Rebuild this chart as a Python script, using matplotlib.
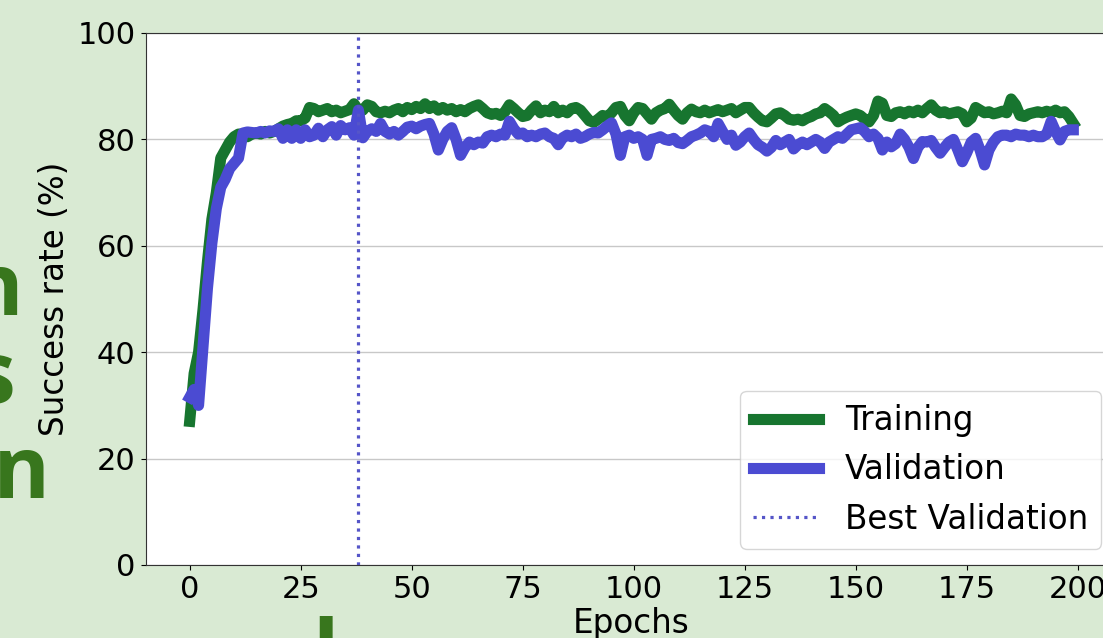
import numpy as np
import matplotlib
matplotlib.use("Agg")
import matplotlib.pyplot as plt

# success rate per epoch
training = [
    27, 36, 40, 48, 57, 65, 70, 76.5, 78, 79.5,
    80.5, 81, 81, 80.5, 81, 81.2, 81, 81.5, 81.2, 81.5,
    82, 82.5, 82.8, 83, 83.5, 83.5, 84, 86, 85.8, 85.2,
    85.5, 85.8, 85.2, 85.5, 85, 85.3, 85.6, 86.7, 85.5, 85.5,
    86.5, 86.2, 85.2, 85, 85.3, 85, 85.5, 85.8, 85.2, 86,
    85.6, 86.2, 85.8, 86.7, 85.8, 86.3, 85.5, 86, 85.5, 85.8,
    85.2, 85.6, 85.2, 85.8, 86.2, 86.5, 85.8, 85, 84.7, 84.9,
    84.5, 85.2, 86.5, 85.8, 85, 84.3, 84.5, 85.5, 86.3, 85,
    85.5, 85.2, 86.2, 85, 85.5, 85, 85.8, 86, 85.5, 84.5,
    83.5, 83.2, 83.8, 84.5, 84.2, 85, 86, 86.2, 84.5, 83.5,
    85, 86, 85.8, 84.8, 83.8, 85, 85.5, 85.8, 86.6, 85.5,
    84.5, 83.8, 85, 85.7, 85.2, 85, 85.5, 85, 85.3, 85.6,
    85.2, 85.5, 85.8, 85, 85.5, 86, 86, 85, 84.2, 83.5,
    83.3, 84, 84.8, 85, 84.5, 83.8, 83.6, 83.8, 83.5, 84,
    84.3, 84.8, 85, 85.8, 85.2, 84.5, 83.3, 83.8, 84.2, 84.5,
    84.8, 84.5, 83.8, 83.3, 84.5, 87.2, 86.8, 84.5, 84.3, 85,
    85.2, 84.8, 85.3, 85, 85.5, 85, 85.8, 86.5, 85.5, 85,
    85.2, 84.8, 85, 85.2, 84.8, 83.3, 84, 86, 85.5, 85,
    85.2, 84.8, 85, 85.3, 85, 87.6, 86.5, 84.5, 84.3, 84.8,
    85, 85.2, 85, 85.3, 85, 85.5, 85, 85.2, 84.3, 83,
]

validation = [
    31.5, 33, 30, 41, 52, 60.5, 67, 71, 72.5, 74.5,
    75.5, 76.5, 81.2, 81.4, 81.3, 81.2, 81.5, 81.2, 81.6, 81.5,
    82, 80.2, 81.8, 80.2, 81.8, 80.2, 81.8, 80.5, 80.8, 82.1,
    80.5, 81.8, 82.4, 80.8, 82.6, 81.8, 82.2, 80.8, 85.5, 80.3,
    81.5, 82, 81.5, 83, 81.5, 81, 81.5, 80.8, 81.5, 82.3,
    82.5, 82, 82.5, 82.8, 83, 81, 78, 80, 81.5, 82.2,
    80, 77, 78.5, 79.5, 79, 79.5, 79.3, 80.5, 80.8, 80.5,
    81, 80.8, 83.4, 82, 81, 81.2, 80.5, 80.8, 80.5, 81,
    81.2, 80.5, 80.2, 79, 80.3, 80.8, 80.5, 81, 80.2, 80.5,
    81, 81.3, 81.2, 81.8, 82.5, 83.1, 81, 77, 80.5, 80.8,
    80.2, 80.5, 80, 77, 80, 80.2, 80.5, 80, 79.8, 80.2,
    79.4, 79.2, 79.8, 80.5, 80.8, 81.2, 81.8, 81.5, 80.5, 83,
    81.5, 80, 80.8, 78.9, 79.5, 80.5, 81.2, 80, 79, 78.5,
    77.8, 78.5, 79.8, 79, 79.5, 80, 78.2, 79, 79.5, 79,
    79.5, 80, 79.5, 78.3, 79.5, 80, 80.5, 80.2, 81, 81.8,
    82, 82.2, 81.5, 80.5, 81, 80.2, 78, 79.5, 78.6, 79.2,
    81, 80, 78.5, 76.4, 78.5, 79.6, 79.5, 79.8, 78.5, 77.4,
    78.5, 79.5, 80, 78, 75.8, 77.5, 79.5, 80.2, 78, 75.2,
    78, 79.5, 80.5, 80.8, 80.8, 80.5, 81, 80.8, 80.8, 80.5,
    80.8, 80.5, 80.5, 81, 83.4, 81.5, 79.9, 81.5, 81.8, 81.8,
]

epochs = np.arange(len(training))
best_epoch = int(np.argmax(validation))

slide_bg = "#d9ead3"
title_green = "#38761d"

fig = plt.figure(figsize=(11.03, 6.38), dpi=100, facecolor=slide_bg)

# pieces of the slide title that the crop cuts off on the left / bottom
big = dict(family="Open Sans", weight="bold",
           fontsize=62, color=title_green, va="baseline")
fig.text(23 / 1103, 1 - 315 / 638, "n", ha="right", **big)
fig.text(15 / 1103, 1 - 403 / 638, "s", ha="right", **big)
fig.text(50 / 1103, 1 - 498 / 638, "on", ha="right", **big)
fig.text(325.5 / 1103, 1 - 682 / 638, "l", ha="center", **big)

# axes run past the right edge of the picture, as in the crop
ax = fig.add_axes([145.5 / 1103, 73 / 638, 972 / 1103, 532 / 638])
ax.set_facecolor("white")

ax.plot(epochs, training, color="#17752f", lw=8, label="Training")
ax.plot(epochs, validation, color="#4b4bd2", lw=8, label="Validation")
ax.axvline(best_epoch, color="#5555c8", lw=2.3, ls=":", label="Best Validation")

ax.set_ylim(0, 100)
ax.set_yticks([0, 20, 40, 60, 80, 100])
ax.set_xticks([0, 25, 50, 75, 100, 125, 150, 175, 200])
ax.grid(axis="y", color="#c8c8c8", lw=1)
ax.set_axisbelow(True)
ax.tick_params(labelsize=22)
for s in ax.spines.values():
    s.set_color("#333333")

ax.set_xlabel("Epochs", fontsize=23.5, labelpad=2)
ax.set_ylabel("Success rate (%)", fontsize=23.5, labelpad=5)

ax.legend(loc="lower right", fontsize=23.5)

fig.savefig("out.png", dpi=100, facecolor=slide_bg)
